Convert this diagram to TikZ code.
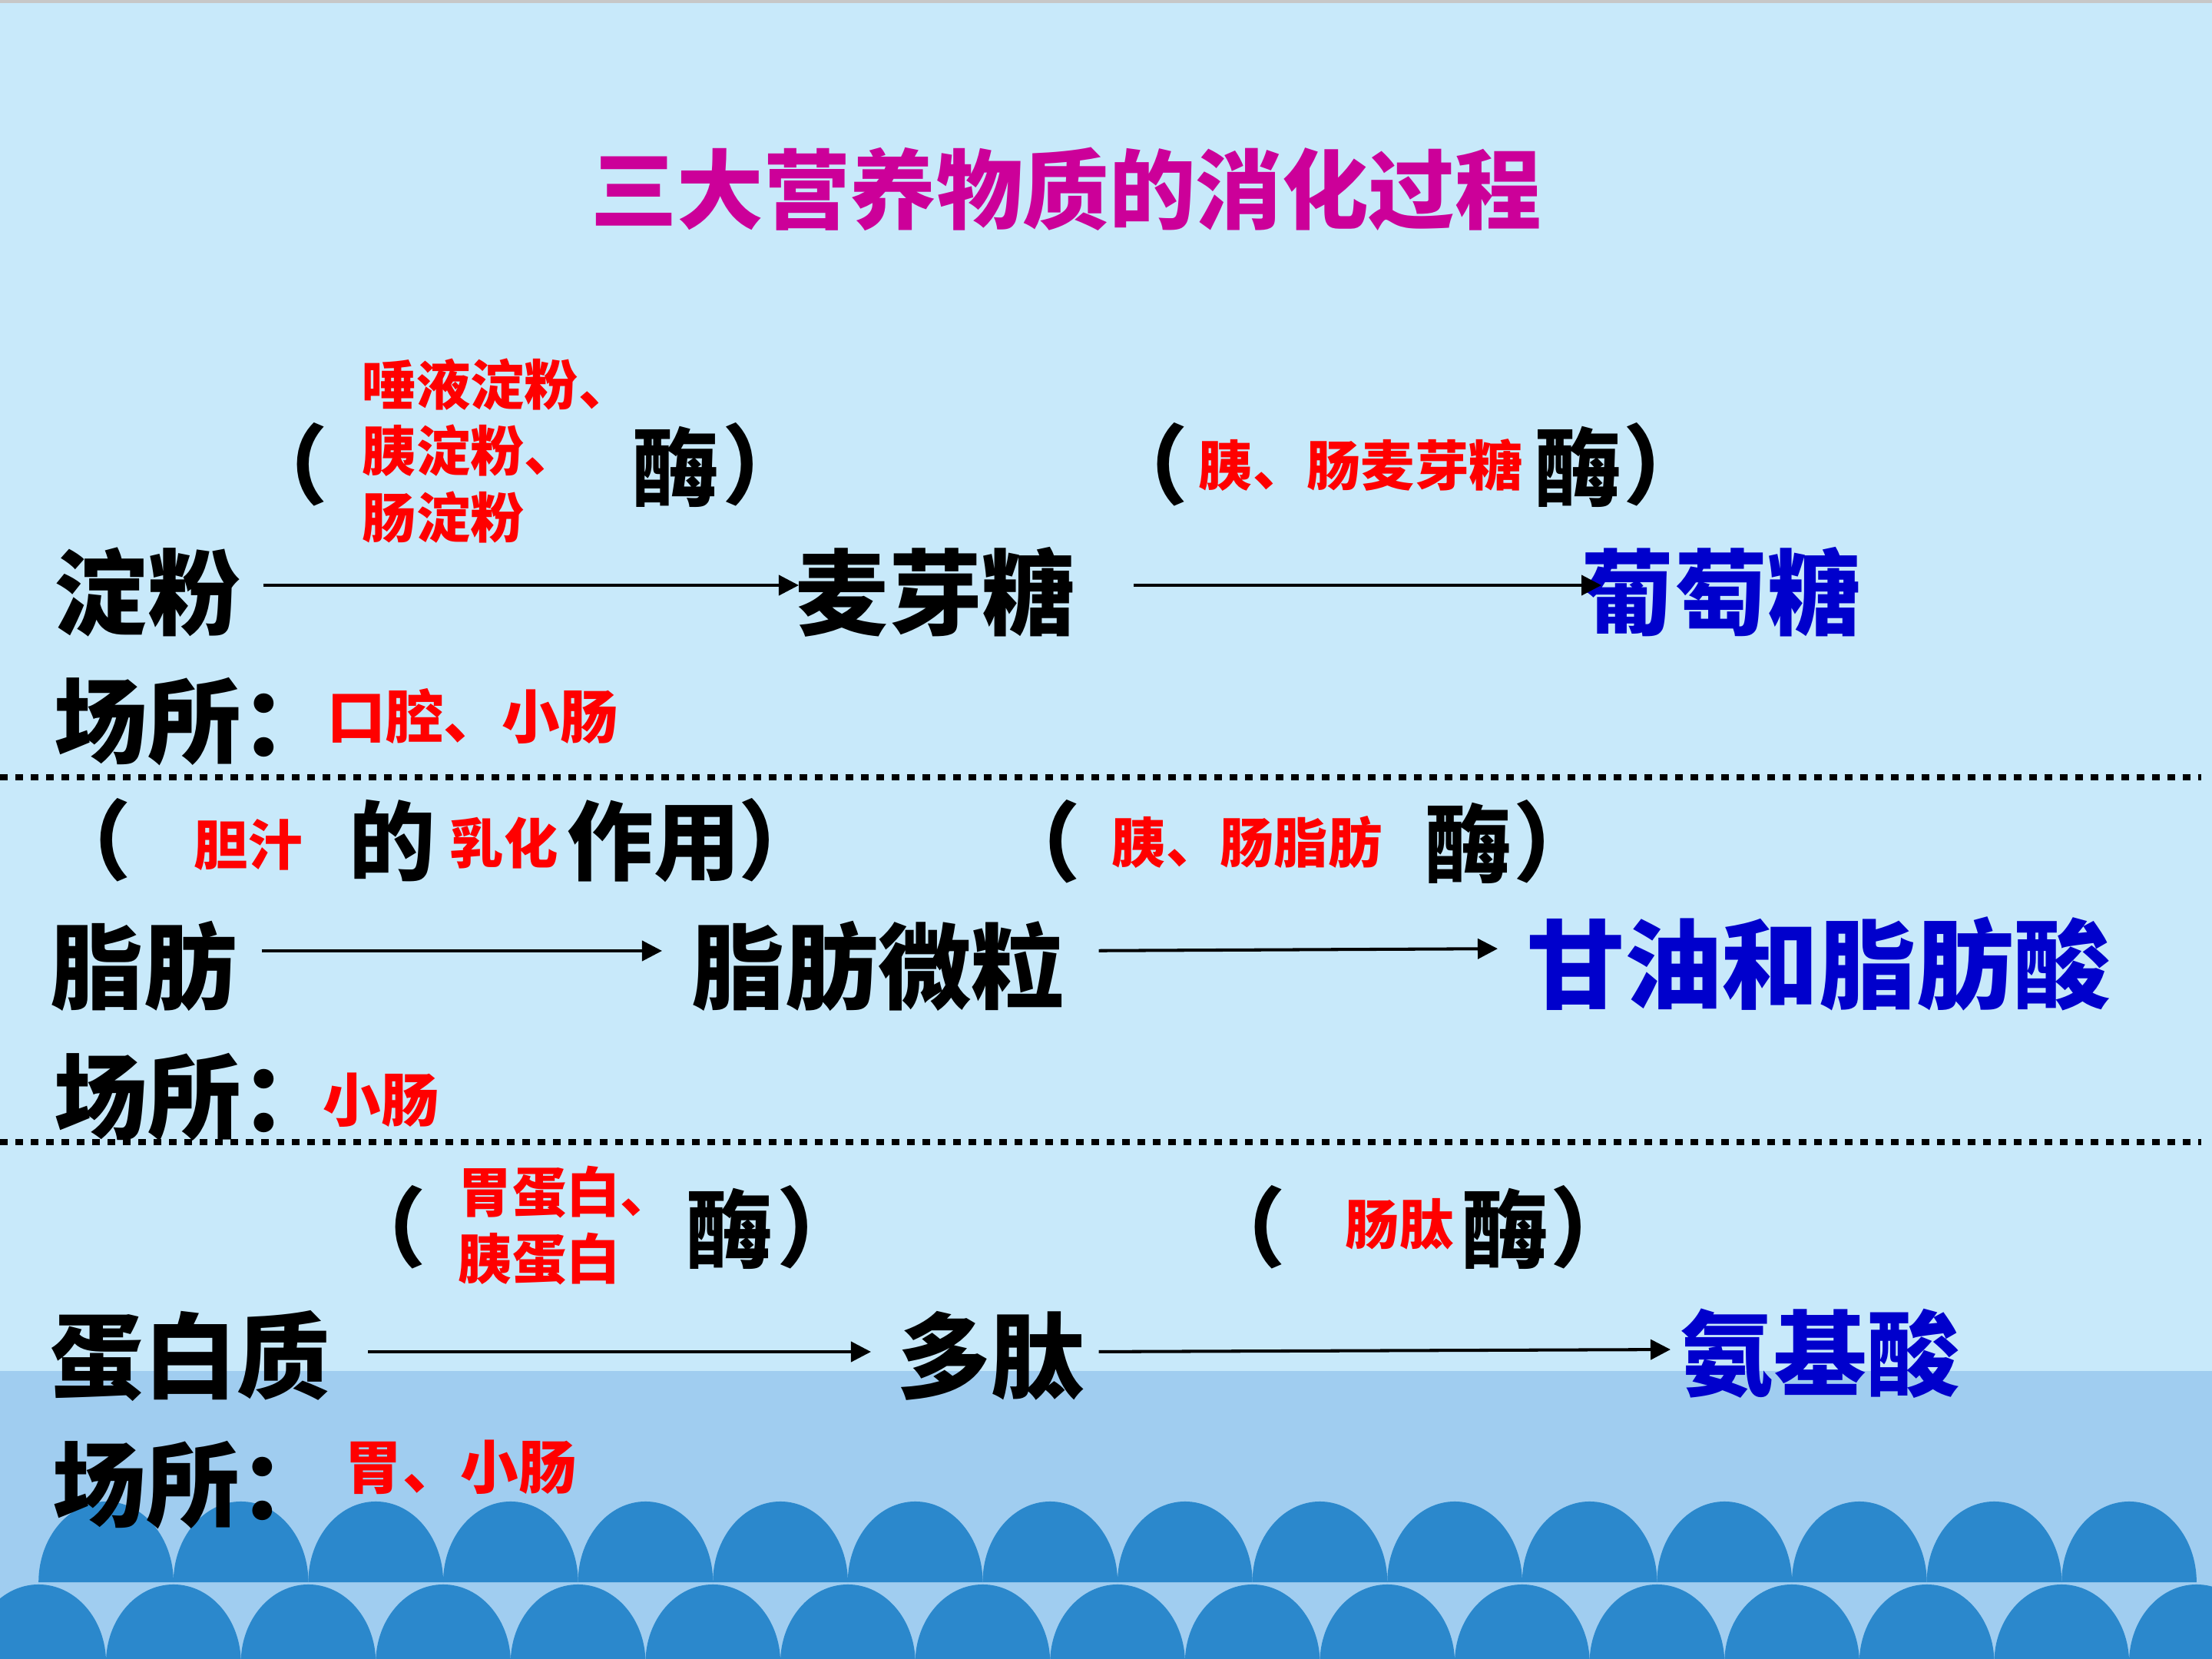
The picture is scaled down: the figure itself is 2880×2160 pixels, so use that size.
\documentclass[tikz,border=0pt]{standalone}
\usepackage{fontspec}
\setmainfont{Noto Sans CJK SC}
\usetikzlibrary{arrows.meta}
\definecolor{skylight}{HTML}{C8E9FA}
\definecolor{skyband}{HTML}{A0CDF0}
\definecolor{wavecol}{HTML}{2B88CC}
\definecolor{titlecol}{HTML}{CC0099}
\definecolor{enzred}{HTML}{FF0000}
\definecolor{prodblue}{HTML}{0000CC}

\begin{document}
\begin{tikzpicture}[x = 0.01cm, y = -0.01cm]

\tikzset{
substance/.style = {inner sep = 0pt, anchor = west,
	font = \bfseries\fontsize{34.5}{40}\selectfont},
product/.style = {substance, text = prodblue},
enzyme/.style = {inner sep = 0pt, anchor = west, text = enzred, align = left,
	font = \bfseries\fontsize{20}{24.7}\selectfont},
bracket/.style = {inner sep = 0pt, font = \bfseries\fontsize{32}{36}\selectfont},
site/.style = {inner sep = 0pt, anchor = west, text = enzred,
	font = \bfseries\fontsize{21.5}{25}\selectfont},
reaction/.style = {-{Triangle[length = 0.26cm, width = 0.26cm]}, line width = 1.15pt},
divider/.style = {line width = 2.3pt, dash pattern = on 0.1cm off 0.1cm},
wave/.style = {fill = wavecol},
}

%% Background
\useasboundingbox (0,0) rectangle (2880,2160);
\fill [skylight] (0,0) rectangle (2880,2160);
\fill [skyband] (0,1785) rectangle (2880,2160);
\fill [black!22] (0,0) rectangle (2880,4);

% Waves
\begin{scope}
\clip (0,0) rectangle (2880,2160);
\foreach \k in {-1,...,16}
	\fill [wave] ({-37.6 + 175.6*\k}, 2165) arc [start angle = 180, end angle = 0,
		x radius = 0.878cm, y radius = 1.02cm] -- cycle;
\foreach \k in {0,...,15}
	\fill [wave] ({50.2 + 175.6*\k}, 2060) arc [start angle = 180, end angle = 0,
		x radius = 0.878cm, y radius = 1.05cm] -- cycle;
\end{scope}

%% Title
\node at (1388, 246) [font = \bfseries\fontsize{32}{36}\selectfont, text = titlecol]
	(title) {三大营养物质的消化过程};

%% Starch
\node at (70, 771) [substance] (starch) {淀粉};
\node at (1035, 771) [substance] (maltose) {麦芽糖};
\node at (2058, 771) [product] (glucose) {葡萄糖};

\node at (371, 605) [bracket] (lp1) {（};
\node at (471, 587) [enzyme] (amylase) {唾液淀粉、\\胰淀粉、\\肠淀粉};
\node at (880, 608) [bracket] (enz1) {酶};
\node at (997, 605) [bracket] (rp1) {）};

\node at (1491, 605) [bracket] (lp2) {（};
\node at (1560, 605) [enzyme] (maltase) {胰、肠麦芽糖};
\node at (2055, 608) [bracket] (enz2) {酶};
\node at (2170, 605) [bracket] (rp2) {）};

\path [reaction] ([yshift = 0.09cm] starch.east) edge [shorten < = 0.285cm,
	shorten > = -0.05cm] ([yshift = 0.09cm] maltose.west);
\path [reaction] ([yshift = 0.09cm] maltose.east) edge [shorten < = 0.76cm,
	shorten > = -0.27cm] ([yshift = 0.09cm] glucose.west);

\node at (70, 940) [substance] (where1) {场所：};
\node at (426, 932) [site] (site1) {口腔、小肠};

\draw [divider] (0,1012) -- (2866,1012);

%% Fat
\node at (65, 1258) [substance] (fat) {脂肪};
\node at (900, 1258) [substance] (micelle) {脂肪微粒};
\node at (1988, 1255) [product, font = \bfseries\fontsize{36}{40}\selectfont]
	(glycerol) {甘油和脂肪酸};

\node at (115, 1094) [bracket] (lp3) {（};
\node at (252, 1100) [enzyme] (bile) {胆汁};
\node at (511, 1095) [bracket] (of) {的};
\node at (585, 1098) [enzyme] (emuls) {乳化};
\node at (738, 1095) [bracket, anchor = west] (action) {作用};
\node at (1018, 1094) [bracket] (rp3) {）};

\node at (1351, 1096) [bracket] (lp4) {（};
\node at (1447, 1096) [enzyme] (lipase) {胰、肠脂肪};
\node at (1912, 1098) [bracket] (enz4) {酶};
\node at (2027, 1096) [bracket] (rp4) {）};

\path [reaction] ([yshift = 0.2cm] fat.east) edge [shorten < = 0.315cm,
	shorten > = 0.38cm] ([yshift = 0.2cm] micelle.west);
\path [reaction] ([yshift = 0.2cm] micelle.east) edge [shorten < = 0.44cm,
	shorten > = 0.38cm] ([yshift = 0.2cm] glycerol.west);

\node at (70, 1429) [substance] (where2) {场所：};
\node at (420, 1432) [site] (site2) {小肠};

\draw [divider] (0,1487) -- (2866,1487);

%% Protein
\node at (65, 1765) [substance] (protein) {蛋白质};
\node at (1168, 1765) [substance] (peptide) {多肽};
\node at (2187, 1762) [product] (amino) {氨基酸};

\node at (499, 1598) [bracket] (lp5) {（};
\node at (596, 1596) [enzyme] (pepsin) {胃蛋白、\\胰蛋白};
\node at (950, 1600) [bracket] (enz5) {酶};
\node at (1068, 1598) [bracket] (rp5) {）};

\node at (1618, 1598) [bracket] (lp6) {（};
\node at (1751, 1594) [enzyme] (peptidase) {肠肽};
\node at (1960, 1600) [bracket] (enz6) {酶};
\node at (2075, 1598) [bracket] (rp6) {）};

\path [reaction] ([yshift = 0.05cm] protein.east) edge [shorten < = 0.49cm,
	shorten > = 0.34cm] ([yshift = 0.05cm] peptide.west);
\path [reaction] ([yshift = 0.05cm] peptide.east) edge [shorten < = 0.185cm,
	shorten > = 0.12cm] ([yshift = 0.05cm] amino.west);

\node at (68, 1934) [substance] (where3) {场所：};
\node at (448, 1910) [site] (site3) {胃、小肠};

\end{tikzpicture}
\end{document}
